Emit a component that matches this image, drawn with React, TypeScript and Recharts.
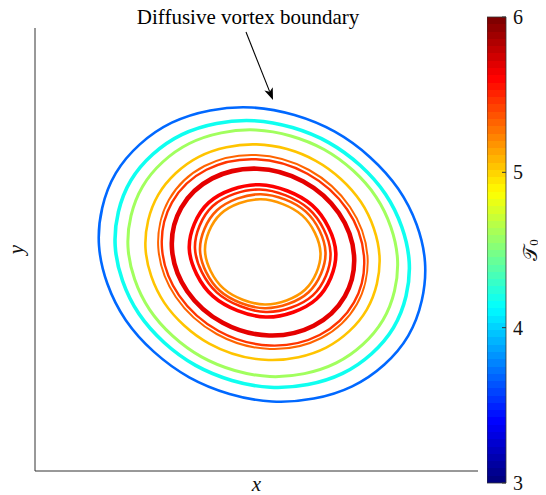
import { LineChart, Line, XAxis, YAxis, ReferenceLine, BarChart, Bar } from "recharts";

// contour lines, outermost first (x, y in plot units, y up)
const ring1 = [[390, 208.7], [373.2, 135.2], [317.2, 84.7], [237, 69.5], [154.2, 93.7], [90.8, 150.8], [64, 225.5], [80.8, 297.8], [136.8, 348.3], [217, 363.5], [299.8, 339.3], [363.2, 282.2]];
const ring2 = [[374.2, 209], [358.5, 143.4], [307.6, 97.6], [235.2, 83.7], [160.6, 105.6], [103.9, 157.2], [80.2, 225], [95.9, 290.6], [146.8, 336.4], [219.2, 350.3], [293.8, 328.4], [350.5, 276.8]];
const ring3 = [[362.5, 211.8], [348, 151], [301.3, 108.1], [234.8, 94.5], [166.5, 114.1], [114.6, 161.4], [93, 223.8], [107.6, 284.6], [154.3, 327.5], [220.8, 341], [289.1, 321.5], [341, 274.2]];
const ring4 = [[344.5, 214.8], [331.8, 161.4], [291.2, 123.4], [233.5, 111], [174.2, 127.4], [129.2, 168.4], [110.5, 222.8], [123.2, 276.2], [163.8, 314.2], [221.5, 326.6], [280.8, 310.2], [325.8, 269.2]];
const ring5 = [[332.5, 215], [322, 167], [286.3, 133], [234.9, 122], [181.7, 137], [140.8, 174], [123.3, 223], [133.8, 271], [169.5, 305], [220.9, 316], [274.1, 301], [315, 264]];
const ring6 = [[329, 214.6], [319, 168.6], [284.6, 136], [235, 125.5], [183.6, 140], [144, 175.6], [127, 222.6], [137, 268.7], [171.4, 301.2], [221, 311.7], [272.4, 297.2], [312, 261.7]];
const ring7 = [[319, 215.9], [309.8, 174.6], [278.7, 145.2], [234, 135.5], [187.7, 148.2], [152.2, 179.8], [137, 221.9], [146.2, 263.2], [177.3, 292.6], [222, 302.3], [268.3, 289.6], [303.8, 258]];
const ring8 = [[300.8, 218.2], [281.5, 172], [230.6, 154], [177.9, 174.8], [154.3, 222.2], [173.7, 268.4], [224.6, 286.3], [277.3, 265.6]];
const ring9 = [[295.5, 218.3], [277.8, 175.6], [230.8, 159], [182, 178.4], [160, 222.3], [177.8, 265], [224.8, 281.5], [273.6, 262.2]];
const ring10 = [[290.5, 218.8], [273.6, 178.8], [229.8, 162.8], [184.8, 180.2], [165, 220.8], [182, 260.8], [225.8, 276.8], [270.8, 259.4]];
const ring11 = [[285.5, 218.1], [270, 181.2], [229.8, 166.5], [188.4, 182.6], [170, 220.1], [185.6, 257], [225.8, 271.7], [267.2, 255.6]];

const rings = [ring1, ring2, ring3, ring4, ring5, ring6, ring7, ring8, ring9, ring10, ring11];
// temperature level of each contour
const levels = [3.68, 4.17, 4.6, 5.05, 5.33, 5.47, 5.7, 5.63, 5.5, 5.36, 5.18];
const lineWidths = [2.6, 3.6, 3, 2.6, 2, 2.4, 4.6, 3.6, 2.6, 2.6, 2.6];

const plotDomain = [0, 443];
const colorRange = [3, 6];
const colorTicks = [3, 4, 5, 6];
const arrowFrom = { x: 211, y: 439 };
const arrowTo = { x: 238, y: 371 };
const annotation = "Diffusive vortex boundary";

const FONT = "'Liberation Serif', 'DejaVu Serif', serif";
const AXIS = "#333333";

const clamp = (v: number) => Math.max(0, Math.min(1, v));
function jet(level: number) {
  const t = (level - colorRange[0]) / (colorRange[1] - colorRange[0]);
  const r = clamp(1.5 - Math.abs(4 * t - 3));
  const g = clamp(1.5 - Math.abs(4 * t - 2));
  const b = clamp(1.5 - Math.abs(4 * t - 1));
  return `rgb(${Math.round(r * 255)},${Math.round(g * 255)},${Math.round(b * 255)})`;
}

// closed catmull-rom through the traced points
const closedSpline = (context: any) => {
  let pts: number[][] = [];
  return {
    areaStart() {},
    areaEnd() {},
    lineStart() {
      pts = [];
    },
    point(x: number, y: number) {
      pts.push([x, y]);
    },
    lineEnd() {
      const n = pts.length;
      if (!n) return;
      context.moveTo(pts[0][0], pts[0][1]);
      for (let i = 0; i < n; i++) {
        const p0 = pts[(i - 1 + n) % n];
        const p1 = pts[i];
        const p2 = pts[(i + 1) % n];
        const p3 = pts[(i + 2) % n];
        context.bezierCurveTo(
          p1[0] + (p2[0] - p0[0]) / 6,
          p1[1] + (p2[1] - p0[1]) / 6,
          p2[0] - (p3[0] - p1[0]) / 6,
          p2[1] - (p3[1] - p1[1]) / 6,
          p2[0],
          p2[1]
        );
      }
      context.closePath();
    },
  };
};

const contours = rings.map((r) => r.map(([x, y]) => ({ x, y })));

function ArrowShape(p: any) {
  const { x1, y1, x2, y2 } = p;
  const a = Math.atan2(y2 - y1, x2 - x1);
  const len = 12;
  const half = 4.5;
  const bx = x2 - len * Math.cos(a);
  const by = y2 - len * Math.sin(a);
  const nx = x2 - len * 0.75 * Math.cos(a);
  const ny = y2 - len * 0.75 * Math.sin(a);
  const px = -Math.sin(a) * half;
  const py = Math.cos(a) * half;
  return (
    <g>
      <text x={x1 + 2} y={y1 - 8} textAnchor="middle" fontFamily={FONT} fontSize={21} fill="#000">
        {annotation}
      </text>
      <line x1={x1} y1={y1} x2={nx} y2={ny} stroke="#000" strokeWidth={1.1} />
      <polygon points={`${x2},${y2} ${bx + px},${by + py} ${nx},${ny} ${bx - px},${by - py}`} fill="#000" />
    </g>
  );
}

const jetStops: { off: number; color: string }[] = [];
for (let i = 0; i < 64; i++) {
  const c = jet(colorRange[0] + ((colorRange[1] - colorRange[0]) * i) / 63);
  jetStops.push({ off: i / 64, color: c }, { off: (i + 1) / 64, color: c });
}

function ColorTick(p: any) {
  const { x, y, payload } = p;
  return (
    <g>
      <line x1={x - 7 - 4} x2={x - 7} y1={y} y2={y} stroke={AXIS} strokeWidth={1} />
      <text x={x} y={y} dy={7} textAnchor="start" fontFamily={FONT} fontSize={20} fill="#111">
        {payload.value}
      </text>
    </g>
  );
}

export default function App() {
  return (
    <div style={{ position: "relative", width: 546, height: 495, margin: "-8px 0 0 -8px" }}>
      <LineChart width={478} height={495} margin={{ top: 28, right: 0, bottom: 0, left: 0 }}>
        <XAxis
          type="number"
          dataKey="x"
          domain={plotDomain}
          ticks={[]}
          tick={false}
          tickLine={false}
          height={24}
          stroke={AXIS}
          allowDataOverflow
          label={(lp: any) => {
            const vb = lp.viewBox;
            return (
              <text x={vb.x + vb.width / 2} y={vb.y + 20} textAnchor="middle" fontFamily={FONT} fontStyle="italic" fontSize={21} fill="#111">
                x
              </text>
            );
          }}
        />
        <YAxis
          type="number"
          dataKey="y"
          domain={plotDomain}
          ticks={[]}
          tick={false}
          tickLine={false}
          width={35}
          stroke={AXIS}
          allowDataOverflow
          label={(lp: any) => {
            const vb = lp.viewBox;
            const cx = vb.x + 16;
            const cy = vb.y + vb.height / 2;
            return (
              <text x={cx} y={cy} transform={`rotate(-90 ${cx} ${cy})`} textAnchor="middle" dominantBaseline="central" fontFamily={FONT} fontStyle="italic" fontSize={21} fill="#111">
                y
              </text>
            );
          }}
        />
        {contours.map((d, i) => (
          <Line
            key={i}
            data={d}
            dataKey="y"
            type={closedSpline as any}
            stroke={jet(levels[i])}
            strokeWidth={lineWidths[i]}
            dot={false}
            activeDot={false}
            isAnimationActive={false}
          />
        ))}
        <ReferenceLine segment={[arrowFrom, arrowTo]} ifOverflow="visible" shape={ArrowShape} />
      </LineChart>
      <div style={{ position: "absolute", left: 487, top: 0 }}>
        <BarChart width={59} height={495} data={[{ name: "T0", range: colorRange }]} margin={{ top: 17, right: 0, bottom: 12, left: 0 }} barCategoryGap={0}>
          <defs>
            <linearGradient id="jetGrad" x1="0" y1="1" x2="0" y2="0">
              {jetStops.map((s, i) => (
                <stop key={i} offset={s.off} stopColor={s.color} />
              ))}
            </linearGradient>
          </defs>
          <XAxis dataKey="name" hide />
          <YAxis
            orientation="right"
            type="number"
            domain={colorRange}
            ticks={colorTicks}
            width={40}
            axisLine={false}
            tickLine={false}
            tickSize={0}
            tickMargin={7}
            tick={ColorTick}
            label={(lp: any) => {
              const vb = lp.viewBox;
              const cx = vb.x + 24;
              const cy = vb.y + vb.height / 2;
              return (
                <text x={cx} y={cy} transform={`rotate(-90 ${cx} ${cy})`} textAnchor="middle" dominantBaseline="central" fontFamily={FONT} fontSize={20} fill="#111">
                  𝒯<tspan fontSize={13} dy={3}>0</tspan>
                </text>
              );
            }}
          />
          <Bar dataKey="range" fill="url(#jetGrad)" stroke={AXIS} strokeWidth={0.8} isAnimationActive={false} />
        </BarChart>
      </div>
    </div>
  );
}
